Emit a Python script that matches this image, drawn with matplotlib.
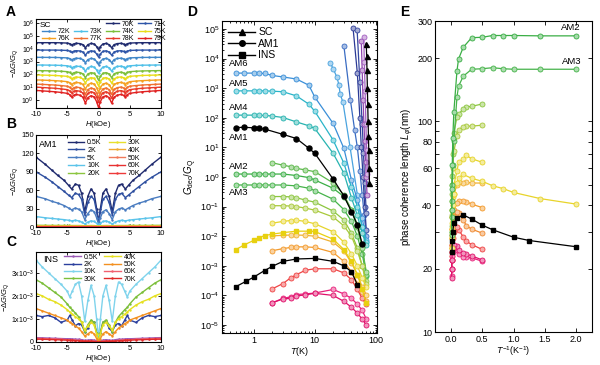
import numpy as np
import matplotlib
matplotlib.use("Agg")
import matplotlib.pyplot as plt
from matplotlib.lines import Line2D
from matplotlib.ticker import LogLocator, NullLocator, FixedLocator, NullFormatter, FixedFormatter
from matplotlib.colors import to_rgb

plt.rcParams['font.family'] = ['Liberation Sans', 'DejaVu Sans']
plt.rcParams['mathtext.fontset'] = 'custom'
plt.rcParams['mathtext.rm'] = 'Liberation Sans'
plt.rcParams['mathtext.it'] = 'Liberation Sans:italic'
plt.rcParams['mathtext.bf'] = 'Liberation Sans:bold'
plt.rcParams['axes.linewidth'] = 0.8

# ---------------- Panel A data (SC) ----------------
H_A = [0, 0.3, 0.7, 1.2, 1.7, 2.1, 2.5, 3.0, 3.6, 4.0, 4.3, 4.6, 5.0, 6, 7, 8, 9, 10]
A_profile = [-0.55, -0.3, -0.1, -0.06, -0.15, -0.4, -0.15, -0.07, -0.05, -0.1, -0.18, -0.08, -0.03, -0.01, 0, 0, 0, 0]
A_labels = ['70K', '71K', '72K', '73K', '74K', '75K', '76K', '77K', '78K', '79K']
A_level = [4.48, 3.90, 3.33, 2.73, 2.29, 1.95, 1.56, 1.23, 0.99, 0.73]
A_tilt = [0.0, 0.0, 0.03, 0.06, 0.1, 0.15, 0.2, 0.25, 0.3, 0.35]
A_depth = [1.0, 1.0, 1.0, 1.1, 1.2, 1.3, 1.4, 1.5, 1.6, 1.8]
A_colors = ['#1f2a6e', '#2e55a8', '#3f86c8', '#4fc0e8', '#7cbf3a', '#e8dc1a', '#f5a020', '#f07030', '#e83a2a', '#e02020']

# ---------------- Panel B data (AM1) ----------------
H_B = [0, 0.3, 0.7, 1.2, 1.7, 2.2, 2.7, 3.2, 3.7, 4.3, 4.8, 5.5, 6.5, 7.5, 8.5, 10]
B_labels = ['0.5K', '2K', '5K', '10K', '20K', '30K', '40K', '50K', '60K', '70K']
B_vals = [
    [8, 30, 55, 62, 50, 25, 55, 68, 70, 62, 68, 76, 84, 93, 102, 114],
    [7, 25, 45, 50, 40, 20, 45, 53, 55, 48, 52, 58, 66, 74, 81, 90],
    [5, 15, 25, 28, 22, 12, 25, 29, 31, 28, 31, 35, 39, 42, 46, 50],
    [3, 6, 9, 10, 8, 5, 8, 10, 11, 10, 11, 12, 13, 14, 15, 17],
    [1.5, 2.0, 2.3, 2.4, 2.3, 2.2, 2.3, 2.4, 2.4, 2.4, 2.5, 2.5, 2.6, 2.6, 2.7, 2.8],
    [1.0, 1.3, 1.5, 1.6, 1.6, 1.5, 1.6, 1.6, 1.7, 1.7, 1.7, 1.8, 1.8, 1.8, 1.9, 1.9],
    [0.6, 0.8, 0.9, 1.0, 1.0, 1.0, 1.0, 1.0, 1.0, 1.0, 1.1, 1.1, 1.1, 1.1, 1.1, 1.1],
    [0.4, 0.5, 0.6, 0.6, 0.6, 0.6, 0.6, 0.6, 0.6, 0.6, 0.6, 0.7, 0.7, 0.7, 0.7, 0.7],
    [0.2, 0.3, 0.3, 0.4, 0.4, 0.4, 0.4, 0.4, 0.4, 0.4, 0.4, 0.4, 0.4, 0.4, 0.4, 0.4],
    [0.1, 0.15, 0.2, 0.2, 0.2, 0.2, 0.2, 0.2, 0.2, 0.2, 0.2, 0.2, 0.2, 0.2, 0.2, 0.2],
]
B_colors = ['#1f2a6e', '#2e4fa0', '#4a7cc0', '#5cc4ea', '#8cc63f', '#e8e02a', '#f0a830', '#f07a5a', '#e83030', '#ee3a3a']

# ---------------- Panel C data (INS), units of 1e-3 ----------------
H_C = [0, 0.3, 0.7, 1.2, 1.7, 2.2, 2.7, 3.2, 3.7, 4.2, 4.6, 5.0, 6, 7, 8, 9, 10]
C_labels = ['0.5K', '2K', '10K', '30K', '40K', '50K', '60K', '70K']
C_vals = [
    [0.03, 0.05, 0.08, 0.10, 0.08, 0.07, 0.10, 0.12, 0.12, 0.13, 0.14, 0.14, 0.15, 0.16, 0.17, 0.18, 0.19],
    [0.05, 0.40, 0.85, 0.90, 0.60, 0.45, 0.75, 0.80, 0.70, 0.95, 1.15, 0.95, 0.85, 1.05, 1.15, 1.10, 1.15],
    [0.15, 1.00, 2.00, 2.45, 1.80, 0.90, 2.00, 2.60, 2.50, 2.20, 1.95, 2.20, 2.50, 2.75, 3.00, 3.25, 3.55],
    [0.05, 0.40, 0.85, 0.95, 0.75, 0.45, 0.85, 1.10, 1.25, 1.40, 1.50, 1.65, 1.95, 2.15, 2.35, 2.55, 2.70],
    [0.05, 0.35, 0.75, 0.85, 0.70, 0.50, 0.85, 1.00, 1.10, 1.20, 1.30, 1.40, 1.60, 1.75, 1.85, 2.00, 2.10],
    [0.03, 0.15, 0.35, 0.45, 0.35, 0.26, 0.45, 0.60, 0.70, 0.80, 0.85, 0.95, 1.05, 1.15, 1.25, 1.35, 1.45],
    [0.00, 0.02, 0.04, 0.05, 0.05, 0.05, 0.06, 0.07, 0.08, 0.09, 0.10, 0.10, 0.12, 0.13, 0.14, 0.15, 0.16],
    [0.00, 0.01, 0.02, 0.03, 0.03, 0.03, 0.04, 0.05, 0.06, 0.07, 0.07, 0.08, 0.09, 0.10, 0.11, 0.12, 0.12],
]
C_colors = ['#9b59b6', '#2b3f9e', '#7fd3ec', '#7cbf3a', '#e6e020', '#f39020', '#f06070', '#e02828']

# ---------------- Panel D data: log10(G_dec/G_Q) vs T ----------------
T_full = [0.5, 0.7, 1, 1.2, 1.5, 2, 3, 5, 8, 10, 20, 30, 40, 50, 60, 70]
T_part = [2, 3, 4, 5, 7, 10, 20, 30, 40, 50, 60, 70]
T_am1 = [0.5, 0.7, 1, 1.2, 1.5, 3, 5, 8, 10, 20, 30, 40, 50, 60]
T_ins = [0.5, 0.75, 1, 1.5, 2, 3, 5, 10, 20, 30, 40, 50]
T_sc = [70, 71, 72, 73, 74, 75, 76, 77, 78, 79]

D_am6 = [3.51, 3.51, 3.51, 3.50, 3.50, 3.43, 3.38, 3.31, 3.10, 2.70, 1.81, 0.97, -0.10, -0.77, -1.38, -2.12]
D_am5 = [2.91, 2.91, 2.91, 2.91, 2.91, 2.90, 2.88, 2.74, 2.46, 2.22, 1.25, 0.47, -0.35, -1.00, -1.70, -2.20]
D_am4 = [2.09, 2.09, 2.09, 2.08, 2.08, 2.06, 2.01, 1.86, 1.73, 1.64, 0.80, 0.13, -0.70, -1.30, -1.90, -2.30]
D_am1 = [1.67, 1.68, 1.66, 1.64, 1.62, 1.44, 1.30, 0.97, 0.80, -0.07, -0.64, -1.17, -1.62, -2.27]
D_am2 = [0.10, 0.10, 0.10, 0.10, 0.10, 0.10, 0.10, 0.05, -0.02, -0.10, -0.38, -0.66, -1.11, -1.62, -2.35, -3.36]
D_am3 = [-0.27, -0.27, -0.27, -0.27, -0.27, -0.27, -0.27, -0.30, -0.38, -0.46, -0.75, -1.10, -1.50, -2.00, -2.60, -3.30]
D_ysq = [-2.46, -2.29, -2.14, -2.05, -1.98, -1.93, -1.88, -1.83, -1.83, -1.84, -2.10, -2.45, -2.85, -3.30, -3.80, -4.25]
D_ins = [-3.71, -3.52, -3.38, -3.16, -3.02, -2.85, -2.77, -2.75, -2.85, -3.00, -3.20, -3.64]
D_sc = [4.50, 4.10, 3.60, 3.00, 2.45, 1.90, 1.40, 0.90, 0.30, -0.20]
D_part = {
    'g1':  [0.48, 0.40, 0.35, 0.29, 0.24, 0.18, -0.20, -0.60, -1.10, -1.70, -2.40, -3.20],
    'yg1': [-0.66, -0.66, -0.67, -0.70, -0.78, -0.85, -1.15, -1.45, -1.90, -2.40, -3.00, -3.50],
    'yg2': [-0.97, -0.97, -0.98, -1.00, -1.05, -1.12, -1.35, -1.65, -2.00, -2.50, -3.00, -3.60],
    'y1':  [-1.56, -1.50, -1.47, -1.46, -1.50, -1.58, -1.85, -2.20, -2.60, -3.00, -3.40, -3.70],
    'o1':  [-1.99, -1.97, -1.96, -1.96, -1.97, -2.00, -2.20, -2.50, -2.90, -3.30, -3.70, -4.00],
    'o2':  [-2.49, -2.42, -2.38, -2.36, -2.36, -2.38, -2.55, -2.85, -3.20, -3.60, -3.90, -4.20],
    'r1':  [-3.78, -3.60, -3.41, -3.30, -3.15, -3.10, -3.10, -3.24, -3.47, -3.80, -4.10, -4.30],
    'p1':  [-4.25, -4.10, -4.05, -3.97, -3.95, -3.92, -3.80, -3.95, -4.10, -4.30, -4.50, -4.80],
    'p2':  [-4.25, -4.12, -4.10, -4.02, -3.98, -3.93, -4.00, -4.20, -4.40, -4.60, -4.80, -5.00],
}
D_part_colors = {'g1': '#5cb84a', 'yg1': '#8cc63f', 'yg2': '#a8c93a', 'y1': '#e6d42a',
                 'o1': '#f1b030', 'o2': '#f39a2c', 'r1': '#ef4444', 'p1': '#e8207a', 'p2': '#e0106a'}
# steep high-temperature curves
D_steep_T = [
    [18, 20, 23, 25, 26, 29, 38, 50, 60, 68],
    [30, 38.5, 45, 50, 55, 60, 65, 70],
    [42.5, 50, 55, 58, 62, 66, 70],
    [49.5, 55, 60, 63, 66, 70],
    [58, 60, 62, 64, 66, 68, 70, 72],
    [63.6, 65, 67, 69, 71, 73],
]
D_steep_G = [
    [3.85, 3.66, 3.38, 3.10, 2.82, 2.52, 1.00, -0.60, -1.70, -2.20],
    [4.44, 2.59, 1.60, 1.00, 0.20, -0.60, -1.30, -2.00],
    [5.03, 3.50, 2.00, 1.00, 0.00, -1.00, -1.80],
    [4.98, 3.20, 1.80, 0.80, -0.20, -1.20],
    [4.60, 3.60, 2.60, 1.80, 1.20, 0.50, 0.00, -0.60],
    [4.72, 3.90, 2.90, 1.80, 0.90, 0.10],
]
D_steep_colors = ['#4aa3df', '#3a6cc2', '#2b3a96', '#34479f', '#8e44ad', '#a35fc0']
D_yticks = [1e-5, 1e-4, 1e-3, 1e-2, 1e-1, 1, 10, 1e2, 1e3, 1e4, 1e5]

# ---------------- Panel E data: L_phi (nm) vs 1/T ----------------
T_partE = [2, 3, 4, 5, 8, 10, 20, 30, 40, 50, 60, 70]
T_insE = [0.5, 0.8, 1, 1.5, 2, 3, 5, 10, 20, 30, 40, 50]
E_am2 = [255, 255, 256, 256, 256, 251, 250, 225, 198, 174, 111, 83, 62, 48, 38, 30]
E_am3 = [177, 177, 177, 178, 180, 178, 177, 164, 147, 131, 81, 62, 50, 42, 35, 29]
E_yfull = [40.5, 43, 46, 48, 49.5, 52, 53.7, 56, 54, 51, 45, 40, 35, 31, 28, 25]
E_ins = [25.4, 27.2, 28.2, 30.6, 32.2, 34.4, 36, 34.7, 33, 30, 27, 24]
E_part = {
    'yg1': [121, 118, 117, 115, 108, 105, 88, 70, 55, 45, 38, 32],
    'yg2': [96, 95, 95, 94.5, 91, 85, 72, 60, 50, 42, 36, 30],
    'y1':  [64, 66.5, 69, 66, 64, 58, 50, 44, 38, 33, 29, 26],
    'o1':  [51, 51, 51.5, 51, 51.5, 50, 45, 40, 35, 31, 28, 25],
    'o2':  [39, 40.5, 41.6, 42, 42, 41, 38, 34, 31, 28, 25, 23],
    'o3':  [29.5, 30.8, 32, 34, 36.7, 37, 35, 32, 29, 26, 24, 22],
    'r1':  [24.7, 26, 27, 28.3, 30.6, 31.4, 30, 28, 26, 24, 22, 20],
    'p1':  [21.7, 22.5, 22.6, 22.8, 23.5, 24.5, 25, 24, 23, 22, 20, 18.5],
    'p2':  [22.0, 23, 23.5, 23.8, 24.5, 25.5, 26, 25, 24, 22, 20, 18],
}
E_part_colors = {'yg1': '#8cc63f', 'yg2': '#a8c93a', 'y1': '#e6d42a', 'o1': '#f1b030',
                 'o2': '#f39a2c', 'o3': '#f08a30', 'r1': '#ef4444', 'p1': '#e8207a', 'p2': '#e0106a'}


def mirror(h, v):
    h = list(h); v = list(v)
    return [-x for x in h[::-1]] + h[1:], v[::-1] + v[1:]


def light(c, f=0.55):
    r, g, b = to_rgb(c)
    return (r + (1 - r) * f, g + (1 - g) * f, b + (1 - b) * f)


fig = plt.figure(figsize=(6.0, 3.65), dpi=100)
W, Hf = 600.0, 365.0


def axes_px(l, t, r, b):
    return fig.add_axes([l / W, 1 - b / Hf, (r - l) / W, (b - t) / Hf])


def style_small(ax, ylabsize=5.5):
    ax.tick_params(direction='in', length=2, width=0.6, pad=1.5, top=True, right=True)
    ax.tick_params(axis='x', labelsize=5.5, pad=2.5)
    ax.tick_params(axis='y', labelsize=ylabsize, pad=1.5)
    ax.set_xlim(-10, 10)
    ax.set_xticks([-10, -5, 0, 5, 10])
    ax.set_xticklabels(['-10', '-5', '0', '5', '10'])
    ax.set_xlabel('$H$(kOe)', fontsize=5.5, labelpad=0.5)

# ---- A ----
axA = axes_px(36, 19, 161, 108)
for i, lab in enumerate(A_labels):
    vals = [10 ** (A_level[i] - A_tilt[i] * (1 - h / 10.0) + A_depth[i] * p) for h, p in zip(H_A, A_profile)]
    hx, vy = mirror(H_A, vals)
    axA.plot(hx, vy, '-', color=A_colors[i], lw=1.0, marker='.', ms=1.5, label=lab)
axA.set_yscale('log')
axA.set_ylim(10 ** -0.65, 10 ** 6.34)
axA.yaxis.set_major_locator(FixedLocator([1, 10, 1e2, 1e3, 1e4, 1e5, 1e6]))
axA.yaxis.set_minor_locator(NullLocator())
style_small(axA, 5)
axA.set_ylabel(r'$-\Delta G/G_{\rm Q}$', fontsize=5.5, labelpad=1)
hA = axA.get_legend_handles_labels()[0]
blank = Line2D([], [], color='none')
orderA = [blank, hA[2], hA[6], blank, hA[3], hA[7], hA[0], hA[4], hA[8], hA[1], hA[5], hA[9]]
labsA = [' ', '72K', '76K', ' ', '73K', '77K', '70K', '74K', '78K', '71K', '75K', '79K']
axA.legend(orderA, labsA, ncol=4, loc='upper left', bbox_to_anchor=(0.02, 1.02), fontsize=5,
           frameon=False, handlelength=1.9, handletextpad=0.3, columnspacing=0.6, labelspacing=0.05,
           borderaxespad=0.1)
axA.text(0.03, 0.97, 'SC', transform=axA.transAxes, fontsize=6, va='top', ha='left')

# ---- B ----
axB = axes_px(36, 135, 161, 227)
for i, lab in enumerate(B_labels):
    hx, vy = mirror(H_B, B_vals[i])
    axB.plot(hx, vy, '-', color=B_colors[i], lw=1.0, marker='.', ms=1.5, label=lab)
axB.set_ylim(0, 150)
axB.set_yticks([0, 30, 60, 90, 120, 150])
style_small(axB)
axB.set_ylabel(r'$-\Delta G/G_{\rm Q}$', fontsize=5.5, labelpad=1)
axB.legend(ncol=2, loc='upper left', bbox_to_anchor=(0.22, 1.0), fontsize=5, frameon=False,
           handlelength=2.4, handletextpad=0.4, columnspacing=1.0, labelspacing=0.1, borderaxespad=0.2)
axB.text(0.02, 0.95, 'AM1', transform=axB.transAxes, fontsize=6.5, va='top', ha='left')

# ---- C ----
axC = axes_px(36, 252, 161, 342)
for i, lab in enumerate(C_labels):
    hx, vy = mirror(H_C, C_vals[i])
    axC.plot(hx, [v * 1e-3 for v in vy], '-', color=C_colors[i], lw=1.0, marker='.', ms=1.5, label=lab)
axC.set_ylim(0, 3.9e-3)
axC.set_yticks([0, 1e-3, 2e-3, 3e-3])
axC.set_yticklabels(['0', '1x10$^{-3}$', '2x10$^{-3}$', '3x10$^{-3}$'])
style_small(axC, 5)
axC.set_ylabel(r'$-\Delta G/G_{\rm Q}$', fontsize=5.5, labelpad=0.5)
axC.legend(ncol=2, loc='upper left', bbox_to_anchor=(0.2, 1.02), fontsize=5, frameon=False,
           handlelength=2.4, handletextpad=0.4, columnspacing=0.8, labelspacing=0.05, borderaxespad=0.1)
axC.text(0.06, 0.97, 'INS', transform=axC.transAxes, fontsize=6.5, va='top', ha='left')

# ---- D ----
axD = axes_px(222, 21, 377, 333)
mk = dict(marker='o', ms=3.6, mew=0.6, lw=0.9)


def dplot(T, lg, c, **kw):
    opts = dict(mk)
    opts.update(kw)
    axD.plot(T, [10 ** v for v in lg], color=c, mfc=light(c), mec=c, **opts)

for T, G, c in zip(D_steep_T, D_steep_G, D_steep_colors):
    dplot(T, G, c)
dplot(T_full, D_am6, '#3a8fd8')
dplot(T_full, D_am5, '#2ab4c8')
dplot(T_full, D_am4, '#27b3b0')
dplot(T_full, D_am2, '#3aae45')
dplot(T_full, D_am3, '#46b34a')
for k, v in D_part.items():
    dplot(T_part, v, D_part_colors[k])
axD.plot(T_full, [10 ** v for v in D_ysq], color='#e8d010', marker='s', ms=3.3, lw=0.9, mfc='#e8d010', mec='#e8d010')
axD.plot(T_am1, [10 ** v for v in D_am1], color='k', marker='o', ms=3.6, lw=0.9, zorder=5)
axD.plot(T_ins, [10 ** v for v in D_ins], color='k', marker='s', ms=3.3, lw=0.9, zorder=5)
axD.plot(T_sc, [10 ** v for v in D_sc], color='k', marker='^', ms=3.6, lw=0.9, zorder=6)
axD.set_xscale('log')
axD.set_yscale('log')
axD.set_xlim(0.3, 105)
axD.set_ylim(10 ** -5.27, 10 ** 5.27)
axD.yaxis.set_major_locator(FixedLocator(D_yticks))
axD.yaxis.set_minor_locator(LogLocator(base=10, subs=np.arange(2, 10), numticks=20))
axD.yaxis.set_minor_formatter(NullFormatter())
axD.xaxis.set_major_locator(FixedLocator([1, 10, 100]))
axD.xaxis.set_major_formatter(FixedFormatter(['1', '10', '100']))
axD.xaxis.set_minor_locator(LogLocator(base=10, subs=np.arange(2, 10), numticks=20))
axD.xaxis.set_minor_formatter(NullFormatter())
axD.tick_params(which='both', direction='in', top=True, right=True, labelsize=6.5, width=0.6, pad=2)
axD.tick_params(which='major', length=3)
axD.tick_params(which='minor', length=1.5)
axD.set_xlabel('$T$(K)', fontsize=6.5, labelpad=0)
axD.set_ylabel(r'$G_{\rm dec}/G_{\rm Q}$', fontsize=7, labelpad=1)
legD = [Line2D([], [], color='k', marker='^', ms=4, lw=1),
        Line2D([], [], color='k', marker='o', ms=4, lw=1),
        Line2D([], [], color='k', marker='s', ms=4, lw=1)]
axD.legend(legD, ['SC', 'AM1', 'INS'], loc='upper left', fontsize=7.5, frameon=False,
           handlelength=2.6, handletextpad=0.3, labelspacing=0.15, borderaxespad=0.2)
for lab, yf in [('AM6', 0.865), ('AM5', 0.80), ('AM4', 0.724), ('AM1', 0.628), ('AM2', 0.535), ('AM3', 0.449)]:
    axD.text(0.045, yf, lab, transform=axD.transAxes, fontsize=6.8, ha='left', va='center')

# ---- E ----
axE = axes_px(435, 21, 592, 332)


def eplot(T, L, c, **kw):
    opts = dict(mk)
    opts.update(kw)
    axE.plot([1.0 / t for t in T], L, color=c, mfc=light(c), mec=c, **opts)

for k, v in E_part.items():
    eplot(T_partE, v, E_part_colors[k])
eplot(T_full, E_yfull, '#e8d42a')
eplot(T_full, E_am3, '#46b34a')
eplot(T_full, E_am2, '#3aae45')
axE.plot([1.0 / t for t in T_insE], E_ins, color='k', marker='s', ms=3.3, lw=0.9, zorder=5)
axE.set_yscale('log')
axE.set_ylim(10, 300)
axE.set_xlim(-0.25, 2.25)
axE.yaxis.set_major_locator(FixedLocator([10, 20, 30, 40, 50, 60, 70, 80, 90, 100, 200, 300]))
axE.yaxis.set_major_formatter(FixedFormatter(['10', '20', '', '40', '', '60', '', '80', '', '100', '200', '300']))
axE.yaxis.set_minor_locator(NullLocator())
axE.set_xticks([0, 0.5, 1.0, 1.5, 2.0])
axE.set_xticklabels(['0.0', '0.5', '1.0', '1.5', '2.0'])
axE.tick_params(which='both', direction='in', top=True, right=True, labelsize=6.5, width=0.6, length=3, pad=2)
axE.set_xlabel('$T^{-1}$(K$^{-1}$)', fontsize=6.5, labelpad=0.5)
axE.set_ylabel(r'phase coherence length $L_{\varphi}$(nm)', fontsize=7, labelpad=1)
axE.text(0.93, 0.98, 'AM2', transform=axE.transAxes, fontsize=6.8, ha='right', va='center')
axE.text(0.93, 0.87, 'AM3', transform=axE.transAxes, fontsize=6.8, ha='right', va='center')

# panel letters
for lab, x, y in [('A', 6, 12), ('B', 6, 124), ('C', 6, 242), ('D', 187, 12), ('E', 400, 12)]:
    fig.text(x / W, 1 - y / Hf, lab, fontsize=10, fontweight='bold', ha='left', va='center',
             family=['Liberation Sans Narrow', 'Liberation Sans'])

fig.savefig('out.png', dpi=100)
